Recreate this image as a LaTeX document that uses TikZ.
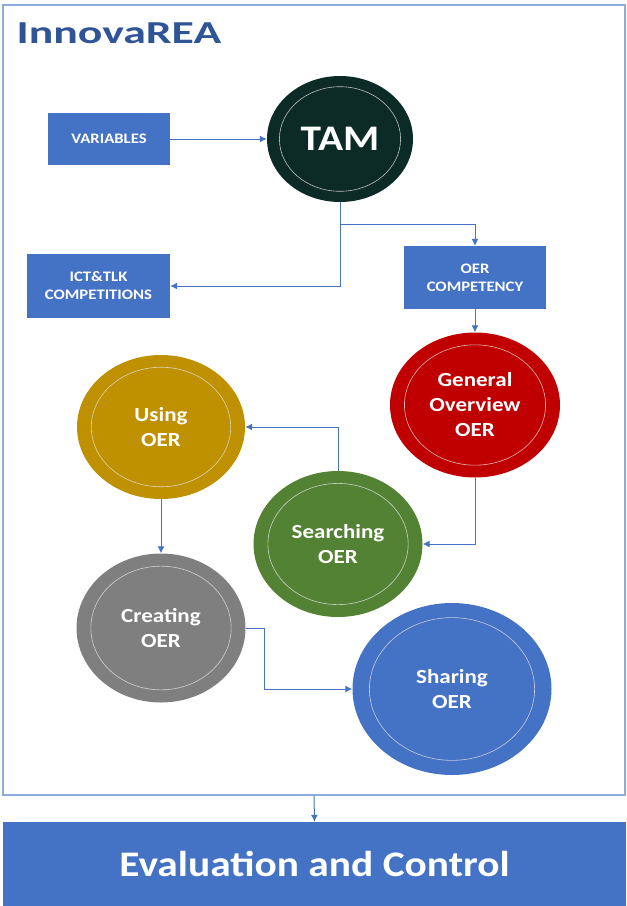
\documentclass[tikz,border=0pt]{standalone}
\usepackage{fontspec}
\setmainfont{Carlito}
\usetikzlibrary{shapes.geometric,arrows.meta}

\definecolor{boxblue}{RGB}{68,114,196}
\definecolor{titleblue}{RGB}{47,85,151}
\definecolor{framecol}{RGB}{143,170,220}
\definecolor{tamcol}{RGB}{12,42,38}
\definecolor{redcol}{RGB}{192,0,0}
\definecolor{goldcol}{RGB}{191,144,0}
\definecolor{greencol}{RGB}{84,130,53}
\definecolor{graycol}{RGB}{127,127,127}

\newcommand{\wide}[1]{\scalebox{1.15}[1]{#1}}

\begin{document}
\begin{tikzpicture}[x=1pt,y=-1pt,
    box/.style={fill=boxblue, text=white, align=center, inner sep=0pt,
      font=\bfseries\fontsize{14.5}{18}\selectfont},
    ring/.style={white!80!gray, opacity=0.8, line width=0.6pt},
    phase/.style n args={3}{ellipse, fill=#1, minimum width=#2, minimum height=#3,
      inner sep=0pt, text=white, align=center,
      font=\bfseries\fontsize{20}{25}\selectfont,
      path picture={\draw[ring] (path picture bounding box.center)
        ellipse [x radius=0.415*#2, y radius=0.415*#3];}},
    link/.style={-{Latex[length=7pt,width=7pt]}, draw=boxblue, line width=1pt}]
                      \useasboundingbox (0,0) rectangle (627,906);
                      \node[draw=framecol, line width=1.2pt, minimum width=622, minimum height=790, inner sep=0pt](innova)at(314,400){};
                      \node[anchor=base west, text=titleblue, font=\bfseries\fontsize{32}{36}\selectfont](title)at(13,43){\scalebox{1.43}[1]{InnovaREA}};
                      \node[box, minimum width=122, minimum height=52](vars)at(109,139){\wide{VARIABLES}};
                      \node[phase={tamcol}{146}{126}, font=\bfseries\fontsize{36}{40}\selectfont](tam)at(340,139){\wide{TAM}};
                      \coordinate (split) at (340,224);
                      \node[box, minimum width=143, minimum height=64](ict)at(98.5,286){\wide{ICT\&TLK}\\\wide{COMPETITIONS}};
                      \node[box, minimum width=142, minimum height=63](oer)at(475,277.5){\wide{OER}\\\wide{COMPETENCY}};
                      \node[phase={redcol}{170}{145}](gen)at(475,405){\wide{General}\\\wide{Overview}\\\wide{OER}};
                      \node[phase={goldcol}{168}{144}](using)at(161,427){\wide{Using}\\\wide{OER}};
                      \node[phase={greencol}{169}{146}](search)at(338,544){\wide{Searching}\\\wide{OER}};
                      \node[phase={graycol}{169}{149}](create)at(161,628){\wide{Creating}\\\wide{OER}};
                      \node[phase={boxblue}{199}{172}](share)at(452,689){\wide{Sharing}\\\wide{OER}};
                      \node[fill=boxblue, minimum width=623, minimum height=84, inner sep=0pt, text=white, font=\bfseries\fontsize{36}{40}\selectfont](eval)at(314.5,864){\wide{Evaluation and Control}};
                      \draw[link] (vars) -- (tam);
                      \draw[link] (tam.south) -- (split) -| (oer.north);
                      \draw[link] (split) |- (ict.east);
                      \draw[link] (oer) -- (gen);
                      \draw[link] (gen.south) |- (search.east);
                      \draw[link] (search.north) |- (using.east);
                      \draw[link] (using) -- (create);
                      \draw[link] (create.east) -- ++(19,0) |- (share.west);
                      \draw[link] (innova.south) -- (eval.north);
                  \end{tikzpicture}
\end{document}
